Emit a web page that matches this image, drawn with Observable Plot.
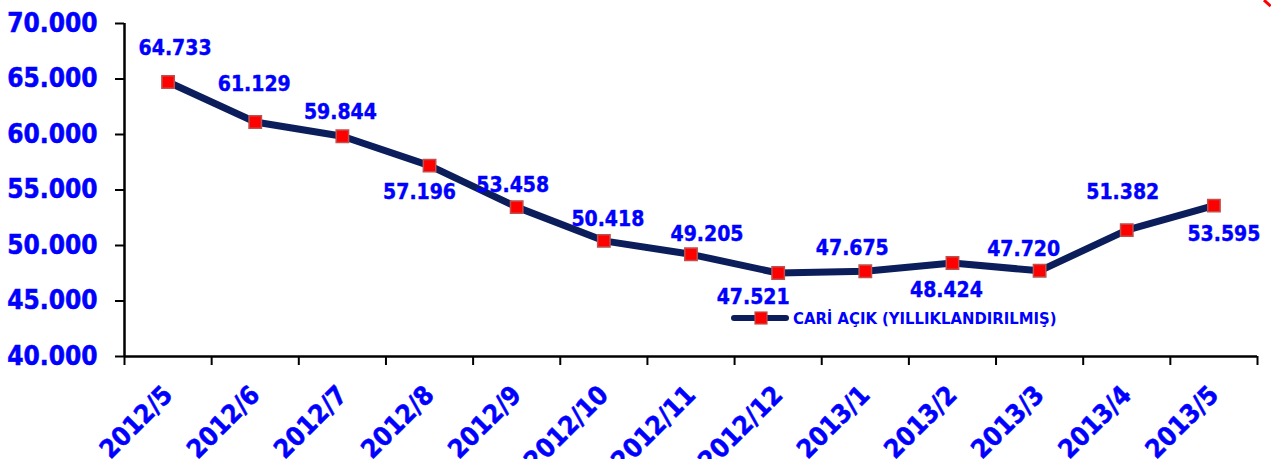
<!DOCTYPE html>
<html>
<head>
<meta charset="utf-8">
<script src="https://cdn.jsdelivr.net/npm/d3@7"></script>
<script src="https://cdn.jsdelivr.net/npm/@observablehq/plot@0.6"></script>
<style>
  html, body { margin: 0; padding: 0; background: #ffffff; }
  #wrap { position: relative; width: 1271px; height: 459px; overflow: hidden; }
  #legend { position: absolute; left: 730px; top: 306px; height: 24px; display: flex; align-items: center;
            font-weight: bold; font-size: 16.5px; color: #0000ff; white-space: nowrap; }
  #legend span { margin-left: 3px; }
  #corner { position: absolute; left: 1265px; top: -1px; width: 9px; height: 2.5px; background: #ff0000;
            transform: rotate(42deg); transform-origin: left top; }
  svg g[aria-label^="y-axis"], svg g[aria-label^="x-axis"] { stroke-width: 2px; }
  svg g[aria-label^="y-axis"] text { fill: #0000ff; stroke: #0000ff; stroke-width: 0.5px; }
</style>
</head>
<body>
<div id="wrap">
  <div id="chart"></div>
  <div id="legend"></div>
  <div id="corner"></div>
</div>
<script>
// ---- data ----
const categories = ["2012/5", "2012/6", "2012/7", "2012/8", "2012/9", "2012/10", "2012/11",
                    "2012/12", "2013/1", "2013/2", "2013/3", "2013/4", "2013/5"];
const values = [64733, 61129, 59844, 57196, 53458, 50418, 49205, 47521, 47675, 48424, 47720, 51382, 53595];
const yTicks = [40000, 45000, 50000, 55000, 60000, 65000, 70000];
const seriesName = "CARİ AÇIK (YILLIKLANDIRILMIŞ)";

// ---- label placement (style: pixel nudges of each value label relative to its point) ----
const labelNudge = [[7, -34], [-1, -38], [-2, -24], [-10, 27], [-4, -22], [4, -22], [16, -20],
                    [-25, 24], [-13, -23], [-6, 27], [-16, -22], [-4, -38], [10, 29]];

// ---- font detection ----
function hasFont(name) {
  const c = document.createElement("canvas").getContext("2d");
  const s = "70.000 2012/5 AÇIK wmWi";
  c.font = "bold 40px monospace";
  const a = c.measureText(s).width;
  c.font = `bold 40px "${name}", monospace`;
  const b = c.measureText(s).width;
  return Math.abs(a - b) > 0.5;
}
const condensed = hasFont("DejaVu Sans Condensed");
const FONT = condensed ? '"DejaVu Sans Condensed", "DejaVu Sans", sans-serif' : '"Liberation Sans", Arial, sans-serif';

const BLUE = "#0000ff";
const NAVY = "#0b1e5b";
const fmt = d => d3.format(",")(d).replace(/,/g, ".");

const data = categories.map((c, i) => ({ i, c, v: values[i] }));
const xPos = d => d.i + 0.5;

const valueLabels = data.map((d, k) => Plot.text([d], {
  x: xPos, y: "v", text: e => fmt(e.v), dx: labelNudge[k][0], dy: labelNudge[k][1], lineAnchor: "middle",
  fill: BLUE, stroke: BLUE, strokeWidth: 0.4, fontSize: 21, fontWeight: "bold", fontFamily: FONT
}));

const chart = Plot.plot({
  width: 1271,
  height: 459,
  marginLeft: 124,
  marginRight: 14,
  marginTop: 23,
  marginBottom: 103,
  style: { background: "#ffffff", fontFamily: FONT, fontSize: "26px", fontWeight: "bold", overflow: "visible" },
  x: { type: "linear", domain: [0, categories.length], ticks: d3.range(categories.length + 1),
       tickFormat: () => "", tickSize: 9, label: null },
  y: { domain: [40000, 70000], ticks: yTicks, tickFormat: fmt, tickSize: 9, tickPadding: 18, label: null },
  marks: [
    Plot.ruleX([0], { stroke: "#000000", strokeWidth: 2.5 }),
    Plot.ruleY([40000], { stroke: "#000000", strokeWidth: 2.5 }),
    Plot.line(data, { x: xPos, y: "v", stroke: NAVY, strokeWidth: 7, strokeLinejoin: "round" }),
    Plot.dot(data, { x: xPos, y: "v", symbol: "square", r: 7, fill: "#ff0000", stroke: "#c0504d", strokeWidth: 1.5 }),
    ...valueLabels,
    Plot.text(data, {
      x: xPos, text: "c", frameAnchor: "bottom", rotate: -45, textAnchor: "end", lineAnchor: "bottom",
      dx: 6, dy: 40, fill: BLUE, stroke: BLUE, strokeWidth: 0.5, fontSize: 26, fontWeight: "bold", fontFamily: FONT
    })
  ]
});
document.getElementById("chart").appendChild(chart);

// ---- legend ----
const legend = document.getElementById("legend");
legend.style.fontFamily = FONT;
legend.innerHTML =
  `<svg width="60" height="14" style="display:block"><line x1="4" y1="7" x2="56" y2="7" stroke="${NAVY}" stroke-width="6" stroke-linecap="round"/>` +
  `<rect x="25" y="1" width="12" height="12" fill="#ff0000" stroke="#c0504d" stroke-width="1.2"/></svg>`;
const span = document.createElement("span");
span.textContent = seriesName;
legend.appendChild(span);
</script>
</body>
</html>
